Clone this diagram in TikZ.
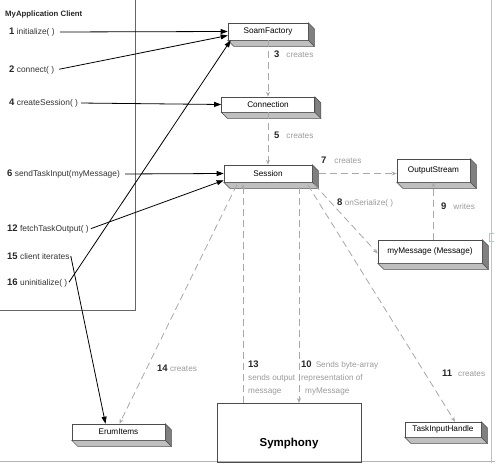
\documentclass[tikz,border=0pt]{standalone}
\usepackage{fontspec}
\setmainfont{Liberation Sans}
\usetikzlibrary{arrows.meta,calc}
\definecolor{dgray}{HTML}{A8A8A8}
\definecolor{lgray}{HTML}{9A9A9A}
\definecolor{edgeblue}{HTML}{B4C4DA}
\newcommand\nb[1]{{\color{black!85}\fontsize{9.5}{10}\selectfont\bfseries #1}}
\begin{document}
\begin{tikzpicture}[x=1pt,y=-1pt,
 obj/.style={draw=black!70, fill=white, line width=0.6pt, font=\fontsize{8.2}{9}\selectfont, inner sep=0pt},
 lab/.style={anchor=west, font=\fontsize{8.4}{9}\selectfont, text=black!80, inner sep=1pt},
 glab/.style={anchor=west, font=\fontsize{8.2}{13}\selectfont, text=lgray, inner sep=0pt, align=left},
 call/.style={-{Triangle[length=7pt,width=5pt]}, line width=0.8pt, black},
 dep/.style={-{Stealth[length=5pt,width=4pt]}, dash pattern=on 7pt off 4pt, dgray, line width=0.8pt},
]
\useasboundingbox (0,0) rectangle (495,463);

% page edges
\draw[gray!60, line width=0.6pt] (0,461.5) -- (495,461.5);
\draw[edgeblue, line width=0.8pt] (491,0) -- (491,463);
\draw[edgeblue, line width=0.8pt] (494,233) -- (489,233) -- (489,241) -- (494,241);

% client box
\node[draw=black!60, line width=0.6pt, minimum width=137pt, minimum height=312pt, anchor=north west, inner sep=0pt] (client) at (-2,-2) {};
\node[anchor=west, font=\fontsize{7.8}{9}\selectfont\bfseries, text=black!85, inner sep=0pt] (title) at (5,14) {MyApplication Client};

% objects
\node[obj, minimum width=80pt, minimum height=17pt] (sf) at (268,31.5) {SoamFactory};
\node[obj, minimum width=93pt, minimum height=15pt] (conn) at (268,104.5) {Connection};
\node[obj, minimum width=88pt, minimum height=17pt] (sess) at (268,173.5) {Session};
\node[obj, minimum width=73pt, minimum height=23pt] (os) at (433.5,170.5) {OutputStream};
\node[obj, minimum width=104pt, minimum height=23pt] (mm) at (430,251.5) {myMessage (Message)};
\node[obj, minimum width=93pt, minimum height=16pt] (en) at (118.5,432) {ErumItems};
\node[obj, minimum width=76pt, minimum height=15pt] (tih) at (443,429.5) {TaskInputHandle};
\foreach \n in {sf,conn,sess,os,mm,en,tih}{
  \filldraw[fill=black!50, draw=black!70, line width=0.5pt] (\n.north east) -- ([shift={(6,6)}]\n.north east) -- ([shift={(6,6)}]\n.south east) -- (\n.south east) -- cycle;
  \filldraw[fill=black!25, draw=black!70, line width=0.5pt] (\n.south west) -- (\n.south east) -- ([shift={(6,6)}]\n.south east) -- ([shift={(6,6)}]\n.south west) -- cycle;
}

% Symphony
\node[draw=black!70, line width=0.6pt, minimum width=144pt, minimum height=59pt, anchor=north, inner sep=0pt] (sym) at (289,403) {};
\node[font=\fontsize{11.5}{12}\selectfont\bfseries, inner sep=0pt] (symtext) at (289,444) {Symphony};

% client labels
\node[lab] (l1) at (8,32) {\nb{1} initialize( )};
\node[lab] (l2) at (8,70) {\nb{2} connect( )};
\node[lab] (l4) at (8,103) {\nb{4} createSession( )};
\node[lab] (l6) at (6,174) {\nb{6} sendTaskInput(myMessage)};
\node[lab] (l12) at (6,229) {\nb{12} fetchTaskOutput( )};
\node[lab] (l15) at (6,256) {\nb{15} client iterates};
\node[lab] (l16) at (6,283) {\nb{16} uninitialize( )};

% calls
\draw[call, shorten <=4pt] (l1.east) -- (sf.west);
\draw[call, shorten <=4pt] (l2.east) -- ([yshift=-4pt]sf.west);
\draw[call, shorten <=2pt] (l4.east) -- (conn.west);
\draw[call, shorten <=4pt] (l6.east) -- (sess.west);
\draw[call, shorten <=1pt] (l12.east) -- ([yshift=2pt]sess.south west);
\draw[call, shorten <=1pt] (l16.east) -- ([xshift=3pt]sf.south west);
\draw[call] (l15.east) -- ([xshift=-13pt]en.north);

% gray labels
\node[glab] (g3) at (274,54) {\nb{3}\hspace{7pt}creates};
\node[glab] (g5) at (274,135) {\nb{5}\hspace{7pt}creates};
\node[glab] (g7) at (321,160) {\nb{7}\hspace{8pt}creates};
\node[glab] (g8) at (337,203) {\nb{8} onSerialize( )};
\node[glab] (g9) at (441,206) {\nb{9}\hspace{7pt}writes};
\node[glab] (g11) at (442,373) {\nb{11}\hspace{6pt}creates};
\node[glab] (g14) at (157,368) {\nb{14} creates};
\node[glab, anchor=north west] (g13) at (248,361) {\nb{13}\\sends output\\message};
\node[glab, anchor=north west] (g10) at (301,361) {\nb{10}\hspace{4pt}Sends byte-array\\representation of\\\hspace*{4pt}myMessage};

% dependencies
\draw[dep] (sf.south) -- (conn.north);
\draw[dep] (conn.south) -- (sess.north);
\draw[dep, shorten <=7pt] (sess.east) -- (sess.east -| os.west);
\draw[dep, shorten <=3pt] (sess.south east) -- ([yshift=-2pt]mm.west);
\draw[dep] (mm.north -| os.south) -- (os.south);
\draw[dep, shorten <=3pt] ([xshift=-6pt]sess.south east) -- ([xshift=12pt]tih.north);
\draw[dep, shorten <=3pt] ([xshift=-30pt]sess.south) -- ([xshift=1pt]en.north);
\draw[dep, shorten >=2pt] ([xshift=-46pt]sym.north) -- ([xshift=-46pt]sym.north |- sess.south);
\draw[dep, shorten <=5pt] ([xshift=10pt]sym.north |- sess.south) -- ([xshift=10pt]sym.north);
\end{tikzpicture}
\end{document}
